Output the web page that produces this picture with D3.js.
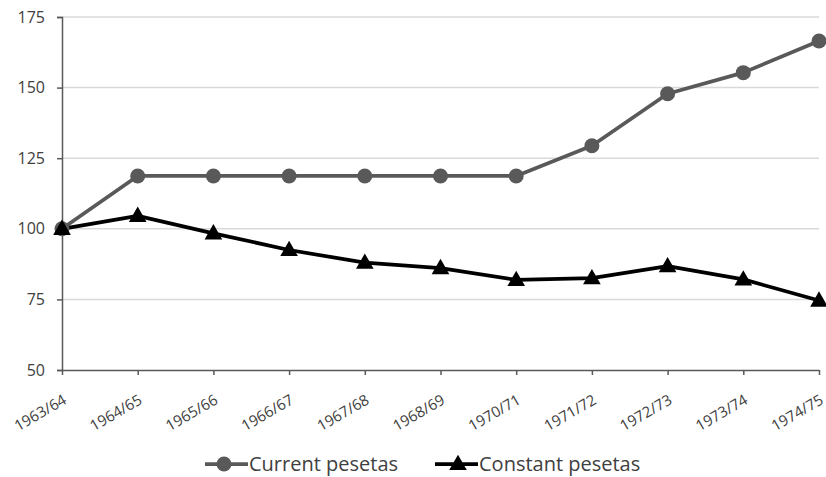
<!DOCTYPE html>
<html>
<head>
<meta charset="utf-8">
<script src="https://cdn.jsdelivr.net/npm/d3@7"></script>
<style>
  html, body { margin: 0; padding: 0; background: #fff; }
  svg { display: block; font-family: "Open Sans", "Noto Sans", sans-serif; }
</style>
</head>
<body>
<svg id="chart" width="826" height="477"></svg>
<script>
// Price index, 1963/64 = 100
const seasons = ["1963/64", "1964/65", "1965/66", "1966/67", "1967/68", "1968/69",
                 "1970/71", "1971/72", "1972/73", "1973/74", "1974/75"];
const currentPesetas  = [100, 118.7, 118.7, 118.7, 118.7, 118.7, 118.7, 129.4, 147.8, 155.3, 166.5];
const constantPesetas = [100, 104.6, 98.4, 92.5, 88.0, 86.1, 81.9, 82.5, 86.8, 82.1, 74.6];
const yTicks = [50, 75, 100, 125, 150, 175];
const seriesNames = ["Current pesetas", "Constant pesetas"];

const svg = d3.select("#chart");
const margin = { left: 62, right: 7, top: 17, bottom: 107 };
const W = 826, H = 477;
const FONT = "'Open Sans', 'Noto Sans', sans-serif";

const x = d3.scalePoint().domain(seasons).range([margin.left, W - margin.right]);
const y = d3.scaleLinear().domain([50, 175]).range([H - margin.bottom, margin.top]);

// horizontal gridlines
svg.append("g")
  .selectAll("line")
  .data(yTicks.filter(d => d !== 50))
  .join("line")
  .attr("x1", margin.left).attr("x2", W - margin.right)
  .attr("y1", d => y(d)).attr("y2", d => y(d))
  .attr("stroke", "#d9d9d9").attr("stroke-width", 1.5);

// y axis
const yAxis = svg.append("g")
  .attr("transform", `translate(${margin.left},0)`)
  .call(d3.axisLeft(y).tickValues(yTicks).tickSize(5).tickPadding(12));
yAxis.attr("font-family", FONT).attr("font-size", 16);
yAxis.select(".domain").attr("stroke", "#595959").attr("stroke-width", 1.5);
yAxis.selectAll(".tick line").attr("stroke", "#595959").attr("stroke-width", 1.5);
yAxis.selectAll("text").attr("fill", "#404040");

// x axis with slanted season labels
const xAxis = svg.append("g")
  .attr("transform", `translate(0,${y(50)})`)
  .call(d3.axisBottom(x).tickSize(5).tickSizeOuter(0));
xAxis.attr("font-family", FONT).attr("font-size", 15);
xAxis.select(".domain").attr("stroke", "#595959").attr("stroke-width", 1.5);
xAxis.selectAll(".tick line").attr("stroke", "#595959").attr("stroke-width", 1.5);
xAxis.selectAll("text")
  .attr("fill", "#404040")
  .attr("text-anchor", "end")
  .attr("dy", null).attr("y", null)
  .attr("transform", "translate(5,33) rotate(-30)");

// lines
const line = d3.line().x((d, i) => x(seasons[i])).y(d => y(d));

svg.append("path").datum(currentPesetas)
  .attr("d", line).attr("fill", "none")
  .attr("stroke", "#595959").attr("stroke-width", 3.75).attr("stroke-linejoin", "round");

svg.append("path").datum(constantPesetas)
  .attr("d", line).attr("fill", "none")
  .attr("stroke", "#000").attr("stroke-width", 3.75).attr("stroke-linejoin", "round");

// markers
svg.append("g").selectAll("circle")
  .data(currentPesetas)
  .join("circle")
  .attr("cx", (d, i) => x(seasons[i])).attr("cy", d => y(d))
  .attr("r", 7.5).attr("fill", "#595959");

const tri = d3.symbol().type(d3.symbolTriangle).size(135);
svg.append("g").selectAll("path")
  .data(constantPesetas)
  .join("path")
  .attr("d", tri)
  .attr("transform", (d, i) => `translate(${x(seasons[i])},${y(d) + 1})`)
  .attr("fill", "#000");

// legend
const legend = svg.append("g").attr("font-family", FONT).attr("font-size", 20);
const items = [
  { name: seriesNames[0], x0: 205, color: "#595959", shape: "circle" },
  { name: seriesNames[1], x0: 435, color: "#000", shape: "triangle" }
];
const ly = 464;
items.forEach(it => {
  const g = legend.append("g");
  g.append("line").attr("x1", it.x0).attr("x2", it.x0 + 43)
    .attr("y1", ly).attr("y2", ly).attr("stroke", it.color).attr("stroke-width", 3.75);
  if (it.shape === "circle") {
    g.append("circle").attr("cx", it.x0 + 19).attr("cy", ly).attr("r", 7.5).attr("fill", it.color);
  } else {
    g.append("path").attr("d", tri).attr("transform", `translate(${it.x0 + 23},${ly + 1})`).attr("fill", it.color);
  }
  g.append("text").attr("x", it.x0 + 44).attr("y", ly).attr("dy", "0.35em")
    .attr("fill", "#404040").text(it.name);
});
</script>
</body>
</html>
